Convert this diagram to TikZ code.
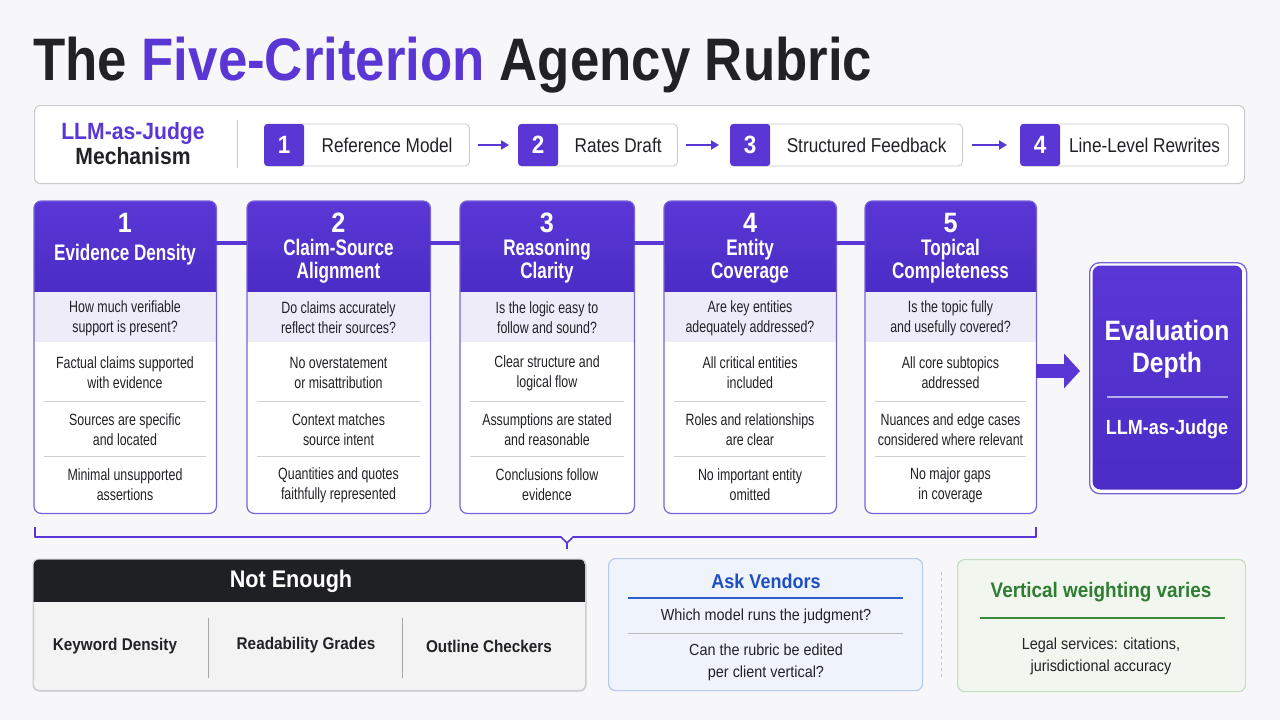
\documentclass[tikz,border=0pt]{standalone}
\usepackage{fontspec}
\setmainfont{Liberation Sans}
\newfontfamily\fA[FakeStretch=0.76]{Liberation Sans}
\newfontfamily\fB[FakeStretch=0.9]{Liberation Sans}
\newfontfamily\fC[FakeStretch=0.86]{Liberation Sans}
\newfontfamily\fT[FakeStretch=0.88]{Liberation Sans}
\usetikzlibrary{calc,arrows.meta}
\definecolor{pur}{HTML}{5A37D5}
\definecolor{purdk}{HTML}{4B2CC6}
\definecolor{lav}{HTML}{EFECFA}
\definecolor{cardln}{HTML}{7A62DA}
\definecolor{sepc}{HTML}{CFCFD6}
\definecolor{txt}{HTML}{222226}
\definecolor{bg}{HTML}{F7F7F9}
\definecolor{darkhdr}{HTML}{1F2023}
\definecolor{notbody}{HTML}{F3F3F4}
\definecolor{notborder}{HTML}{CDCDD1}
\definecolor{bluefill}{HTML}{EEF3FC}
\definecolor{blueborder}{HTML}{B8CAEE}
\definecolor{bluetxt}{HTML}{1E4FC2}
\definecolor{blueline}{HTML}{2B5FD0}
\definecolor{greenfill}{HTML}{F1F7EF}
\definecolor{greenborder}{HTML}{C3DDBE}
\definecolor{greentxt}{HTML}{2E7D32}
\definecolor{greenline}{HTML}{3A8A3E}
\definecolor{mechborder}{HTML}{C9C9CF}
\definecolor{evline}{HTML}{B7ACEF}

\tikzset{
  stepbox/.style={draw=mechborder, fill=white, rounded corners=4pt, minimum height=42pt, inner sep=0pt, line width=0.8pt},
  numsq/.style={fill=pur, rounded corners=3pt, minimum width=40pt, minimum height=42pt, inner sep=0pt, text=white, font=\fB\bfseries\fontsize{25}{25}\selectfont},
  steptext/.style={text=txt, inner sep=0pt, font=\fC\fontsize{20}{20}\selectfont},
  steparrow/.style={-{Triangle[length=8pt,width=9pt]}, line width=1.8pt, pur},
  cardbox/.style={fill=white, minimum height=312pt, inner sep=0pt},
  cardline/.style={draw=cardln, line width=1.2pt},
  sepl/.style={draw=sepc, line width=0.9pt},
  cardnum/.style={text=white, inner sep=0pt, font=\fB\bfseries\fontsize{28}{28}\selectfont},
  cardtitle/.style={text=white, inner sep=0pt, align=center, font=\fA\bfseries\fontsize{22.5}{23}\selectfont},
  cardtxt/.style={text=txt, inner sep=0pt, align=center, font=\fA\fontsize{16.3}{20}\selectfont},
  conn/.style={pur, line width=4pt},
  bottxt/.style={text=txt, inner sep=0pt, align=center, font=\fB\fontsize{16}{22}\selectfont},
}

\newcommand\mkcard[8]{%
  \node[cardbox, minimum width={#3-#2}, anchor=north west] (#1) at (#2,201) {};
  \begin{scope}
    \clip[rounded corners=7pt] (#2,201) rectangle (#3,513);
    \shade[top color=pur, bottom color=purdk] (#2,201) rectangle (#3,292);
    \fill[lav] (#2,292) rectangle (#3,342);
  \end{scope}
  \draw[cardline, rounded corners=7pt] (#1.north west) rectangle (#1.south east);
  \draw[sepl] (#2+10,401) -- (#3-10,401);
  \draw[sepl] (#2+10,456) -- (#3-10,456);
  \node[cardnum] (#1n) at ({(#2+#3)/2},223) {#4};
  \node[cardtxt] (#1q) at ({(#2+#3)/2},318) {#5};
  \node[cardtxt] (#1a) at ({(#2+#3)/2},373) {#6};
  \node[cardtxt] (#1b) at ({(#2+#3)/2},430) {#7};
  \node[cardtxt] (#1c) at ({(#2+#3)/2},485) {#8};
}

\begin{document}
\begin{tikzpicture}[x=1pt,y=-1pt]
\useasboundingbox (0,0) rectangle (1280,720);
\fill[bg] (0,0) rectangle (1280,720);

% Title
\node[anchor=base west, inner sep=0pt, text=txt] (title) at (33,80)
  {\fT\bfseries\fontsize{60}{60}\selectfont The \textcolor{pur}{Five-Criterion} Agency Rubric};

% Mechanism box
\node[draw=mechborder, fill=white, rounded corners=6pt, line width=1pt, minimum width=1210pt, minimum height=78pt, anchor=north west, inner sep=0pt] (mech) at (34,105) {};
\node[inner sep=0pt, align=center, font=\fB\bfseries\fontsize{23.5}{25}\selectfont] (mechlbl) at (133,144)
  {\textcolor{pur}{LLM-as-Judge}\\\textcolor{txt}{Mechanism}};
\draw[mechborder, line width=1pt] (237,120) -- (237,168);

\node[stepbox, minimum width=205pt, anchor=west] (b1) at (264,145) {};
\node[numsq, anchor=west] (n1) at (b1.west) {1};
\node[steptext] (t1) at ($(n1.east)!0.5!(b1.east)$) {Reference Model};

\node[stepbox, minimum width=159pt, anchor=west] (b2) at (518,145) {};
\node[numsq, anchor=west] (n2) at (b2.west) {2};
\node[steptext] (t2) at ($(n2.east)!0.5!(b2.east)$) {Rates Draft};

\node[stepbox, minimum width=232pt, anchor=west] (b3) at (730,145) {};
\node[numsq, anchor=west] (n3) at (b3.west) {3};
\node[steptext] (t3) at ($(n3.east)!0.5!(b3.east)$) {Structured Feedback};

\node[stepbox, minimum width=208pt, anchor=west] (b4) at (1020,145) {};
\node[numsq, anchor=west] (n4) at (b4.west) {4};
\node[steptext] (t4) at ($(n4.east)!0.5!(b4.east)$) {Line-Level Rewrites};

\draw[steparrow] ([xshift=8pt]b1.east) -- ([xshift=-9pt]b2.west);
\draw[steparrow] ([xshift=8pt]b2.east) -- ([xshift=-11pt]b3.west);
\draw[steparrow] ([xshift=9pt]b3.east) -- ([xshift=-13pt]b4.west);

% Cards
\mkcard{c1}{34}{216}{1}{How much verifiable\\support is present?}{Factual claims supported\\with evidence}{Sources are specific\\and located}{Minimal unsupported\\assertions}
\mkcard{c2}{247}{430}{2}{Do claims accurately\\reflect their sources?}{No overstatement\\or misattribution}{Context matches\\source intent}{Quantities and quotes\\faithfully represented}
\mkcard{c3}{460}{634}{3}{Is the logic easy to\\follow and sound?}{Clear structure and\\logical flow}{Assumptions are stated\\and reasonable}{Conclusions follow\\evidence}
\mkcard{c4}{664}{836}{4}{Are key entities\\adequately addressed?}{All critical entities\\included}{Roles and relationships\\are clear}{No important entity\\omitted}
\mkcard{c5}{865}{1036}{5}{Is the topic fully\\and usefully covered?}{All core subtopics\\addressed}{Nuances and edge cases\\considered where relevant}{No major gaps\\in coverage}

\node[cardtitle] (c1t) at (125,255) {Evidence Density};
\node[cardtitle] (c2t) at (338.5,261.5) {Claim-Source\\Alignment};
\node[cardtitle] (c3t) at (547,261.5) {Reasoning\\Clarity};
\node[cardtitle] (c4t) at (750,261.5) {Entity\\Coverage};
\node[cardtitle] (c5t) at (950.5,261.5) {Topical\\Completeness};

\coordinate (cy) at (0,243);
\draw[conn] (c1.east |- cy) -- (c2.west |- cy);
\draw[conn] (c2.east |- cy) -- (c3.west |- cy);
\draw[conn] (c3.east |- cy) -- (c4.west |- cy);
\draw[conn] (c4.east |- cy) -- (c5.west |- cy);

% Evaluation depth
\node[draw=cardln, fill=white, line width=1.3pt, rounded corners=10pt, minimum width=157pt, minimum height=231pt, anchor=north west, inner sep=0pt] (ev) at (1089,262) {};
\shade[top color=pur, bottom color=purdk, rounded corners=8pt] (1092.5,265.5) rectangle (1242.5,489.5);
\node[text=white, inner sep=0pt, align=center, font=\fT\bfseries\fontsize{28}{32}\selectfont] (evt) at (1167,349) {Evaluation\\Depth};
\draw[evline, line width=2pt] (1107,397) -- (1228,397);
\node[text=white, inner sep=0pt, font=\fT\bfseries\fontsize{20.5}{22}\selectfont] (evj) at (1167,429) {LLM-as-Judge};

\coordinate (ay) at (0,371);
\draw[-{Triangle[length=16pt,width=34pt]}, line width=14pt, pur, shorten >=9pt] (c5.east |- ay) -- (ev.west |- ay);

% Bracket
\coordinate (brL) at (35,527);
\coordinate (brR) at (1036,527);
\coordinate (brM) at (567,549);
\draw[pur, line width=1.6pt, line join=round] (brL) |- (561,537) -- (567,543) -- (573,537) -| (brR);
\draw[pur, line width=1.6pt] (567,543) -- (brM);

% Not Enough
\node[draw=notborder, fill=notbody, rounded corners=6pt, line width=1pt, minimum width=552pt, minimum height=131pt, anchor=north west, inner sep=0pt] (ne) at (33,559) {};
\begin{scope}
  \clip[rounded corners=6pt] (33,559) rectangle (585,690);
  \fill[darkhdr] (33,559) rectangle (585,602);
\end{scope}
\draw[notborder, line width=1pt, rounded corners=6pt] (ne.north west) rectangle (ne.south east);
\node[text=white, inner sep=0pt, font=\fB\bfseries\fontsize{24}{24}\selectfont] (net) at (291,581) {Not Enough};
\node[text=txt, inner sep=0pt, font=\fB\bfseries\fontsize{17}{17}\selectfont] (ne1) at (115,646) {Keyword Density};
\node[text=txt, inner sep=0pt, font=\fB\bfseries\fontsize{17}{17}\selectfont] (ne2) at (306,645) {Readability Grades};
\node[text=txt, inner sep=0pt, font=\fB\bfseries\fontsize{17}{17}\selectfont] (ne3) at (489,646) {Outline Checkers};
\draw[gray!70, line width=0.9pt] (208,618) -- (208,678);
\draw[gray!70, line width=0.9pt] (402,618) -- (402,678);

% Ask Vendors
\node[draw=blueborder, fill=bluefill, rounded corners=7pt, line width=1.2pt, minimum width=314pt, minimum height=132pt, anchor=north west, inner sep=0pt] (av) at (608,558) {};
\node[text=bluetxt, inner sep=0pt, font=\fB\bfseries\fontsize{20}{20}\selectfont] (avt) at (766,581) {Ask Vendors};
\draw[blueline, line width=1.6pt] (628,598) -- (903,598);
\node[bottxt] (av1) at (766,616) {Which model runs the judgment?};
\draw[gray!55, line width=1pt] (628,633) -- (903,633);
\node[bottxt] (av2) at (766,662) {Can the rubric be edited\\per client vertical?};

\draw[gray!45, line width=1pt, dashed] (941,572) -- (941,680);

% Vertical weighting
\node[draw=greenborder, fill=greenfill, rounded corners=7pt, line width=1.2pt, minimum width=288pt, minimum height=132pt, anchor=north west, inner sep=0pt] (vw) at (957,559) {};
\node[text=greentxt, inner sep=0pt, font=\fB\bfseries\fontsize{21}{21}\selectfont] (vwt) at (1101,592) {Vertical weighting varies};
\draw[greenline, line width=1.6pt] (980,618) -- (1225,618);
\node[bottxt] (vw1) at (1101,656) {Legal services: citations,\\jurisdictional accuracy};

\end{tikzpicture}
\end{document}
